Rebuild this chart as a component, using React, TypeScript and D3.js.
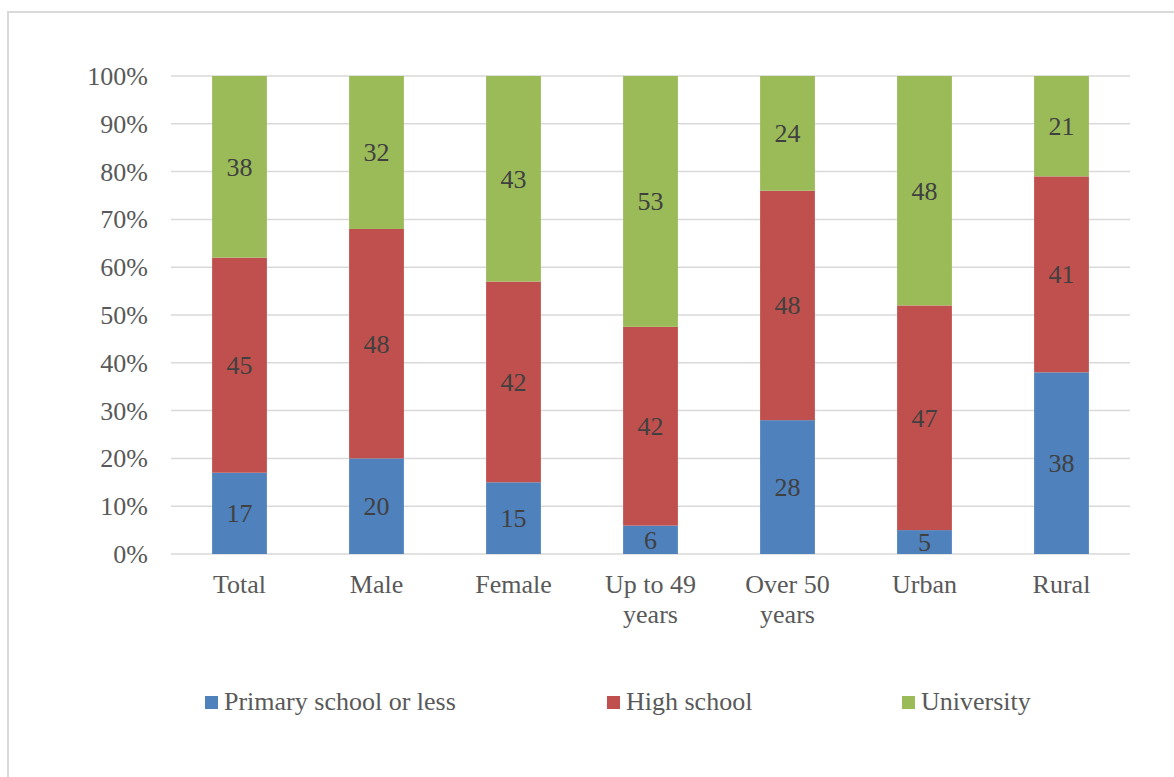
import * as d3 from "d3";

// Education level by group, stacked to 100%.
const categories = ["Total", "Male", "Female", "Up to 49|years", "Over 50|years", "Urban", "Rural"];
const seriesNames = ["Primary school or less", "High school", "University"];
const primary = [17, 20, 15, 6, 28, 5, 38];
const highSchool = [45, 48, 42, 42, 48, 47, 41];
const university = [38, 32, 43, 53, 24, 48, 21];
const yTicks = [0, 0.1, 0.2, 0.3, 0.4, 0.5, 0.6, 0.7, 0.8, 0.9, 1];
const colors = ["#4f81bd", "#c0504d", "#9bbb59"];

const W = 1174;
const H = 777;
const FONT = "'Liberation Serif', 'Times New Roman', serif";

const rows = categories.map((c, i) => ({
  cat: c,
  s0: primary[i],
  s1: highSchool[i],
  s2: university[i],
}));
const keys = ["s0", "s1", "s2"];

const stack = d3.stack<any>().keys(keys).offset(d3.stackOffsetExpand);
const layers = stack(rows);

const x = d3.scaleBand<string>().domain(categories).range([171, 1130]).paddingInner(0.6).paddingOuter(0.3);
const y = d3.scaleLinear().domain([0, 1]).range([554, 76]);

const legendX = [205, 607, 902];

export default function App() {
  return (
    <svg
      width={W}
      height={H}
      viewBox={`0 0 ${W} ${H}`}
      style={{ position: "absolute", left: 0, top: 0, background: "#fff" }}
    >
      <rect x={8} y={12} width={1200} height={800} fill="#fff" stroke="#d9d9d9" strokeWidth={2} />
      {/* gridlines */}
      {yTicks.map((t) => (
        <line key={t} x1={171} x2={1130} y1={y(t)} y2={y(t)} stroke="#d9d9d9" strokeWidth={1.5} />
      ))}
      {yTicks.map((t) => (
        <text
          key={"l" + t}
          x={148}
          y={y(t) + 9}
          textAnchor="end"
          fontFamily={FONT}
          fontSize={26}
          fill="#595959"
        >
          {d3.format(".0%")(t)}
        </text>
      ))}
      {/* bars */}
      {layers.map((layer, li) => (
        <g key={layer.key} fill={colors[li]}>
          {layer.map((d: any) => (
            <rect
              key={d.data.cat}
              x={x(d.data.cat)}
              y={y(d[1])}
              width={x.bandwidth()}
              height={y(d[0]) - y(d[1])}
            />
          ))}
        </g>
      ))}
      {/* data labels */}
      {layers.map((layer) =>
        layer.map((d: any) => (
          <text
            key={layer.key + d.data.cat}
            x={(x(d.data.cat) as number) + x.bandwidth() / 2}
            y={(y(d[0]) + y(d[1])) / 2 + 9}
            textAnchor="middle"
            fontFamily={FONT}
            fontSize={26}
            fill="#404040"
          >
            {d.data[layer.key]}
          </text>
        ))
      )}
      {/* x labels */}
      {categories.map((c) => (
        <text
          key={c}
          x={(x(c) as number) + x.bandwidth() / 2}
          y={593}
          textAnchor="middle"
          fontFamily={FONT}
          fontSize={26}
          fill="#595959"
        >
          {c.split("|").map((line, i) => (
            <tspan key={i} x={(x(c) as number) + x.bandwidth() / 2} dy={i === 0 ? 0 : 30}>
              {line}
            </tspan>
          ))}
        </text>
      ))}
      {/* legend */}
      {seriesNames.map((s, i) => (
        <g key={s}>
          <rect x={legendX[i]} y={696} width={13} height={13} fill={colors[i]} />
          <text x={legendX[i] + 19} y={710} fontFamily={FONT} fontSize={26} fill="#595959">
            {s}
          </text>
        </g>
      ))}
    </svg>
  );
}
